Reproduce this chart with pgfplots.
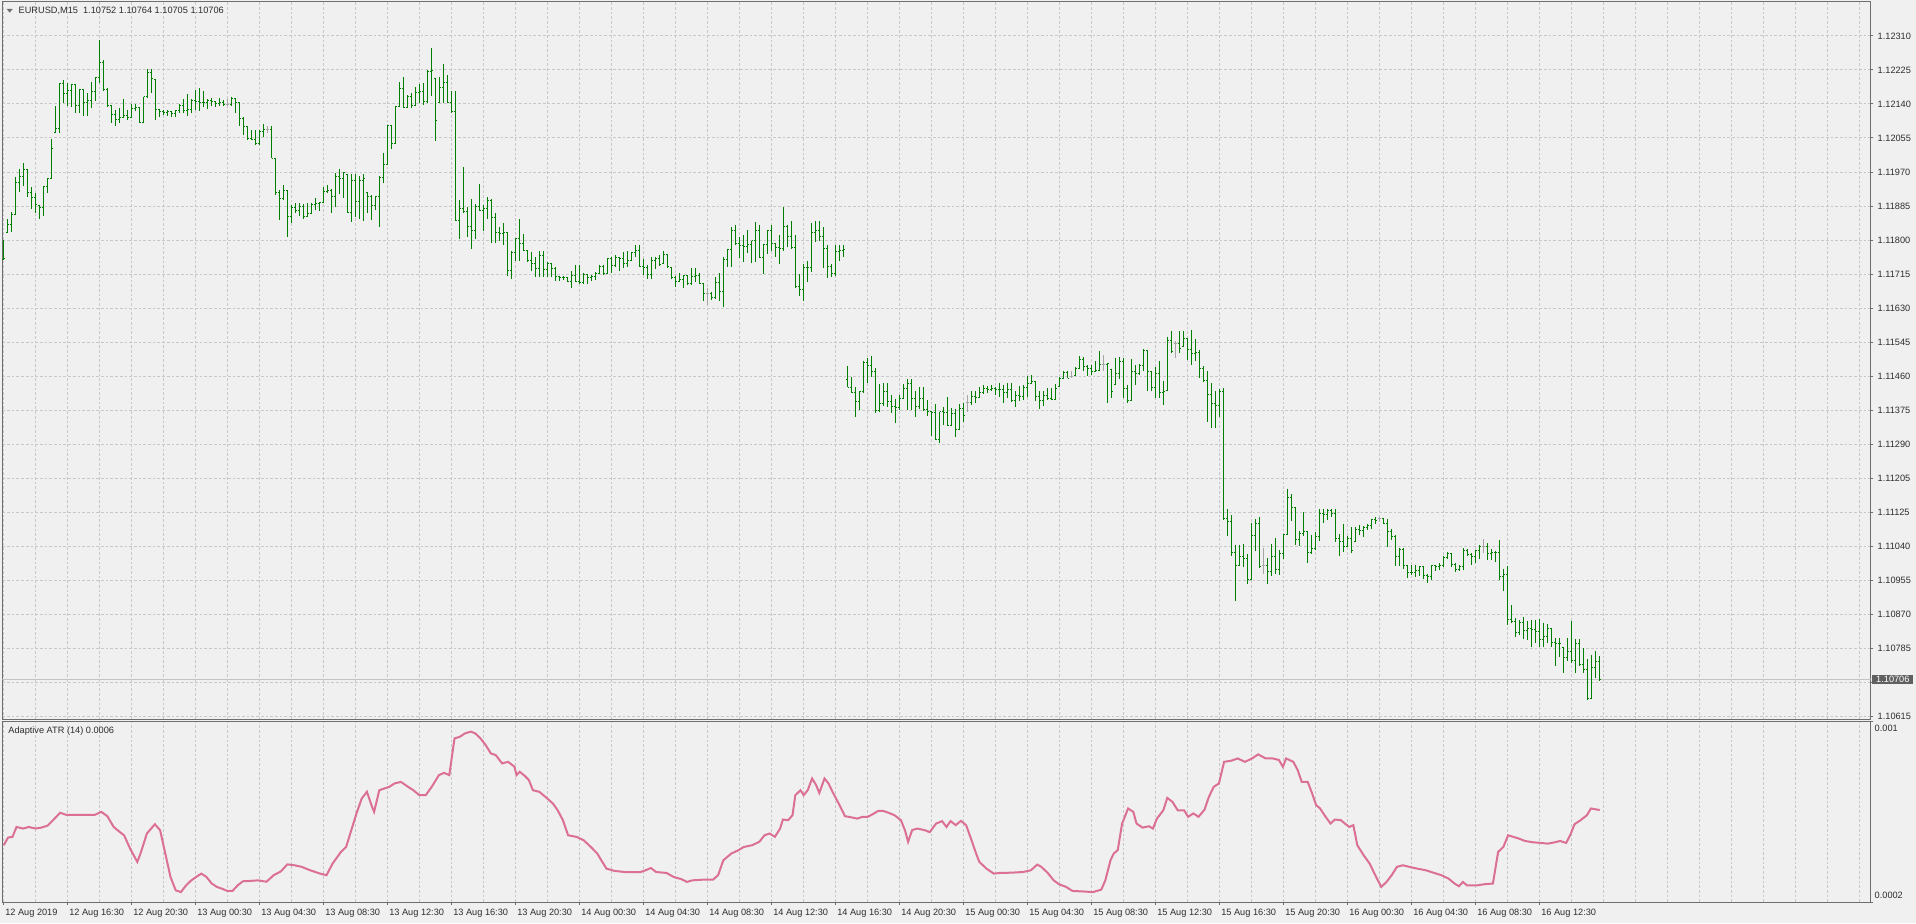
\documentclass[border=0pt]{standalone}
\usepackage{pgfplots}
\pgfplotsset{compat=1.18}
\usepackage{pgfplotstable}
\usepackage{fontspec}
\setmainfont{Liberation Sans}
\definecolor{bgcol}{RGB}{240,240,240}
\definecolor{gridcol}{RGB}{200,200,200}
\definecolor{framecol}{RGB}{110,110,110}
\definecolor{txtcol}{RGB}{45,45,45}
\definecolor{bargreen}{RGB}{0,128,0}
\definecolor{dojigray}{RGB}{165,165,165}
\definecolor{atrcol}{RGB}{219,112,147}
\definecolor{pricebox}{RGB}{96,96,96}
\definecolor{pline}{RGB}{195,195,195}
\newcommand\mtfont{\fontsize{4.6}{5.2}\selectfont}
\pgfdeclareplotmark{otick}{\pgfpathmoveto{\pgfqpoint{-\pgfplotmarksize}{0pt}}\pgfpathlineto{\pgfqpoint{0pt}{0pt}}\pgfusepathqstroke}
\pgfdeclareplotmark{ctick}{\pgfpathmoveto{\pgfqpoint{0pt}{0pt}}\pgfpathlineto{\pgfqpoint{\pgfplotmarksize}{0pt}}\pgfusepathqstroke}
\pgfdeclareplotmark{dtick}{\pgfpathmoveto{\pgfqpoint{-\pgfplotmarksize}{0pt}}\pgfpathlineto{\pgfqpoint{\pgfplotmarksize}{0pt}}\pgfusepathqstroke}

% prices in pips above 1.10000 (e.g. 231.0 = 1.12310)
\pgfplotstableread{
i o h l c
0 175.4 180.1 175.1 175.6
1 182.0 185.5 181.9 184.0
2 184.0 187.2 182.2 186.5
3 186.5 195.9 186.5 194.4
4 194.4 197.8 192.2 196.0
5 196.0 199.4 193.6 197.8
6 197.6 197.6 190.9 191.9
7 191.9 193.4 188.0 190.8
8 190.8 191.9 186.9 188.9
9 188.85 188.85 185.4 188.3
10 188.3 193.6 186.1 193.4
11 193.4 195.7 191.9 195.4
12 195.4 205.3 195.4 203.0
13 206.9 213.6 206.9 208.0
14 208.0 219.3 206.9 219.1
15 219.1 220.1 214.4 216.6
16 216.6 219.3 213.6 217.4
17 217.4 219.0 213.4 218.85
18 218.85 218.85 211.9 213.6
19 213.6 217.8 211.9 217.6
20 217.6 217.9 211.1 214.4
21 214.4 216.9 211.1 214.9
22 214.9 219.6 213.0 217.2
23 217.2 220.9 214.85 220.7
24 220.7 230.1 219.3 224.5
25 224.5 225.1 217.2 217.6
26 217.6 218.0 213.4 213.6
27 213.6 213.6 209.4 211.5
28 211.5 212.6 208.6 210.3
29 210.3 213.0 209.3 210.8
30 210.8 215.35 210.5 211.1
31 211.1 212.6 210.1 210.8
32 210.8 214.1 210.8 212.85
33 212.85 214.1 212.2 213.3
34 213.2 213.2 209.4 209.4
35 209.4 215.9 209.3 215.85
36 215.85 222.8 215.5 221.9
37 221.9 222.8 216.9 220.3
38 220.1 220.1 210.1 212.6
39 212.6 212.8 210.9 212.2
40 212.2 212.6 211.35 211.9
41 211.9 212.6 211.1 212.2
42 212.2 212.4 210.8 211.6
43 211.6 212.6 210.8 212.35
44 212.35 214.1 211.9 213.6
45 213.6 215.3 211.8 212.4
46 212.4 216.5 211.1 212.6
47 212.6 215.3 211.9 214.9
48 214.9 217.6 212.6 214.7
49 214.7 218.1 212.4 214.5
50 214.5 217.35 213.4 214.3
51 214.3 215.35 212.8 214.9
52 214.9 215.5 213.6 214.7
53 214.7 214.9 213.4 214.1
54 214.1 215.5 213.6 214.4
55 214.4 215.1 213.6 213.85
57 213.85 215.9 213.6 215.5
58 215.5 215.5 211.9 214.4
59 214.4 214.4 208.6 210.5
60 210.5 210.9 206.35 208.4
61 208.4 208.6 205.1 205.5
62 205.5 207.6 205.1 205.3
63 205.3 207.6 203.85 204.1
64 204.1 207.6 203.85 207.2
65 207.2 209.0 205.9 207.6
67 207.6 208.6 200.5 200.5
68 200.5 200.5 191.35 191.9
69 191.9 192.6 185.1 190.5
70 190.5 193.85 190.1 192.4
71 192.4 192.6 181.0 186.1
72 186.1 188.85 184.4 188.3
73 188.3 189.3 186.9 187.6
74 187.6 189.4 186.1 188.6
75 188.6 189.1 185.3 186.1
76 186.1 189.3 185.8 186.8
77 186.8 189.3 186.6 189.0
78 189.0 190.5 187.6 189.3
79 189.3 189.7 187.4 189.4
80 189.4 193.4 189.3 192.2
81 192.2 193.85 191.8 192.4
82 192.4 192.8 186.9 190.9
83 190.9 196.8 188.4 195.9
84 195.9 197.8 191.6 195.6
85 195.6 197.2 190.5 196.9
86 196.6 196.6 186.9 186.9
87 186.9 196.6 184.7 195.1
88 195.1 196.6 185.9 189.7
89 189.7 196.1 185.5 195.1
90 195.1 196.6 184.9 195.5
91 191.9 191.9 186.9 191.1
92 191.1 191.35 185.1 188.85
93 188.85 191.1 187.6 190.9
94 190.9 196.1 183.3 195.8
95 195.8 201.9 194.4 198.85
96 198.85 208.85 198.85 208.6
97 208.6 208.85 202.8 204.3
98 204.3 213.6 204.3 213.4
99 213.4 219.5 213.3 217.8
100 217.8 220.8 213.0 213.2
101 213.3 216.35 213.3 215.9
102 215.9 216.8 213.0 213.6
103 213.6 218.3 213.6 216.9
104 216.9 219.1 214.4 217.2
105 217.2 219.4 213.85 214.7
106 214.7 222.6 214.4 222.2
107 222.2 228.0 216.1 222.4
108 220.3 220.3 204.85 209.9
109 214.4 220.9 214.4 218.2
110 218.2 224.1 214.4 219.3
111 219.3 221.35 214.3 214.3
112 214.3 217.2 211.8 212.2
113 212.2 217.2 184.9 184.9
114 184.9 190.1 180.5 188.0
115 188.0 198.4 186.9 187.2
116 187.2 188.4 180.8 183.6
117 183.6 190.3 177.8 182.6
118 182.6 189.1 180.5 188.4
119 188.4 194.1 187.4 187.6
120 187.6 188.85 182.4 188.0
121 188.0 190.9 185.5 190.1
122 190.1 190.45 179.4 185.7
123 185.7 186.9 179.4 181.9
124 181.9 183.5 180.0 181.7
125 181.7 184.4 179.0 181.9
126 181.9 182.1 171.3 172.5
127 172.5 177.3 170.5 177.1
128 177.1 180.7 175.0 180.5
129 180.5 185.5 174.9 179.4
130 179.4 181.7 177.5 177.5
131 177.5 177.5 174.6 175.0
132 175.0 177.1 172.5 174.4
133 174.4 175.9 171.0 172.95
134 172.95 177.4 171.0 176.3
135 176.3 177.5 171.0 172.9
136 172.9 174.6 170.9 174.2
137 174.2 174.2 171.0 172.95
138 172.95 173.4 169.9 171.0
139 171.0 171.3 169.9 170.7
140 170.7 171.3 170.2 170.9
141 170.9 171.0 169.6 169.9
142 169.9 172.4 168.2 171.3
143 171.3 173.8 169.6 169.9
144 169.9 173.8 169.2 169.6
145 169.6 171.9 169.2 171.5
146 171.5 171.7 169.2 170.9
147 170.9 171.5 169.9 171.0
148 171.0 172.1 170.2 171.7
149 171.7 173.8 171.7 173.6
150 173.6 174.0 171.5 171.7
151 171.7 175.7 171.7 175.45
152 175.45 176.0 171.9 173.8
153 173.8 176.3 173.5 175.7
154 175.7 176.0 172.4 175.45
155 175.45 177.1 173.2 174.4
156 174.4 177.4 173.5 175.0
157 175.0 177.1 174.9 176.95
158 176.95 178.8 176.0 177.5
159 177.5 178.8 173.5 173.5
160 173.5 175.45 171.5 173.2
161 173.2 173.8 170.5 171.5
162 171.5 175.9 170.5 175.0
163 175.0 175.9 172.95 175.45
164 175.45 176.5 173.8 174.0
165 174.4 177.5 174.4 176.5
166 176.5 176.5 173.2 173.5
167 173.4 173.4 170.5 170.7
168 170.7 171.3 168.5 169.9
169 169.9 171.9 169.6 170.2
170 170.2 171.5 168.2 171.3
171 171.3 171.3 169.0 169.2
172 169.2 173.2 169.0 171.0
173 171.0 173.2 169.6 171.2
174 171.2 171.9 169.2 169.4
175 169.2 169.2 165.0 166.9
177 166.9 167.1 165.2 165.7
178 165.7 170.9 165.45 169.6
179 169.6 171.9 165.0 167.4
180 167.4 175.9 163.5 175.2
181 175.2 177.95 173.5 177.7
182 177.7 183.4 173.5 182.5
183 182.5 184.0 178.8 179.4
184 179.4 180.9 175.7 178.8
185 178.8 181.5 174.6 178.5
186 178.5 182.7 176.9 179.0
187 179.0 180.0 174.4 180.0
188 180.0 184.6 174.6 182.5
189 182.5 184.0 175.7 175.7
190 175.7 179.2 171.7 179.0
191 179.0 182.7 176.7 182.5
192 182.5 183.8 177.5 179.2
193 179.2 179.4 175.9 178.2
194 178.2 181.3 174.2 178.0
195 178.0 188.5 177.5 183.5
196 183.5 183.8 178.4 181.0
197 181.0 185.0 178.0 178.2
198 178.2 181.5 168.4 168.5
199 168.5 171.7 166.3 167.7
200 167.7 174.2 164.9 173.4
201 173.4 175.0 169.6 173.2
202 173.2 184.4 172.1 182.1
203 182.1 184.9 179.6 182.5
204 182.5 184.9 179.9 181.0
205 181.0 183.5 173.2 177.95
206 177.95 179.0 170.7 173.5
207 173.5 174.2 171.0 171.9
208 171.9 179.0 171.3 177.4
209 177.4 179.0 175.0 177.5
210 177.5 178.8 176.0 177.8
211 145.3 148.8 143.5 143.5
212 143.5 146.0 142.0 142.2
213 142.2 143.5 136.1 139.8
214 139.8 142.6 137.8 142.4
215 142.4 149.9 142.1 149.5
216 149.5 150.7 144.5 148.9
217 148.9 151.3 146.1 147.4
218 147.4 148.2 137.1 137.6
219 137.6 144.3 137.4 139.3
220 139.3 144.5 138.8 142.4
221 142.4 144.6 138.6 139.9
222 139.9 141.6 137.1 138.6
223 138.6 140.5 134.6 138.5
224 138.5 141.6 137.8 140.7
225 140.7 144.3 140.5 143.2
226 143.2 145.5 137.8 144.5
227 144.5 145.5 137.8 140.7
228 140.7 142.4 136.1 138.6
229 138.6 143.5 138.0 140.7
230 140.7 143.5 137.6 138.0
231 138.0 140.3 136.3 137.4
232 137.4 137.4 131.3 137.1
233 137.1 139.3 130.3 130.5
234 130.5 137.4 129.6 137.4
235 137.4 138.5 134.0 137.2
236 137.2 141.0 133.8 134.0
237 134.0 138.2 134.0 136.8
238 136.8 138.0 131.1 133.0
239 133.0 139.3 133.0 138.2
240 138.2 139.5 134.9 136.3
242 139.6 142.4 139.1 141.1
243 141.1 142.4 139.6 141.0
244 141.0 143.6 141.0 142.1
245 142.1 144.1 141.8 143.2
246 143.2 143.8 142.1 143.0
247 143.0 144.1 142.4 143.2
248 143.2 143.5 141.6 142.8
249 142.8 144.6 141.1 143.0
250 143.0 144.1 139.6 142.1
251 142.1 144.5 140.7 143.0
252 143.0 144.5 139.9 140.1
253 140.1 142.6 138.6 141.3
254 141.3 143.8 139.9 141.1
255 141.1 144.1 140.3 143.5
256 143.5 146.3 141.1 144.5
257 144.5 146.6 144.3 144.8
258 144.8 144.9 139.9 141.1
259 141.1 142.4 138.0 140.1
260 140.1 142.6 138.8 141.3
261 141.3 143.2 140.3 140.7
262 140.7 143.2 140.3 140.5
263 140.5 144.3 140.5 143.2
264 143.6 146.0 143.6 145.7
265 145.7 147.4 145.5 147.1
266 147.1 147.4 145.7 145.7
268 146.3 148.5 146.3 148.2
269 148.2 151.3 148.0 150.3
270 150.3 151.0 147.4 148.5
271 148.5 149.1 146.3 148.2
272 148.2 149.1 146.6 147.4
273 147.4 149.9 147.4 147.6
274 147.6 152.6 147.4 149.1
276 149.1 149.6 139.6 149.3
277 148.0 148.0 140.7 142.4
278 144.1 150.7 144.1 147.0
279 147.0 151.0 145.5 149.9
280 149.9 150.7 140.7 143.2
281 143.2 144.1 139.5 140.1
282 140.1 150.5 140.1 147.4
283 147.4 149.1 144.1 147.0
284 147.0 149.3 146.6 148.8
285 148.8 153.0 147.4 152.6
286 152.6 152.8 142.4 147.4
287 147.4 147.4 142.4 143.5
288 143.5 148.5 140.7 146.8
289 146.8 149.9 140.7 142.1
290 142.1 145.1 139.0 142.4
291 142.6 156.0 142.6 155.0
292 155.0 157.4 152.0 152.4
294 154.3 157.4 152.1 153.0
295 153.5 157.4 153.5 155.5
296 155.5 155.5 150.3 152.8
297 152.8 157.8 149.05 151.9
298 151.9 155.5 149.9 152.0
299 152.0 152.8 145.7 148.2
300 148.2 148.8 144.9 145.1
301 145.1 147.55 134.9 141.55
302 141.55 144.5 133.2 139.3
303 139.3 142.55 133.2 138.8
304 138.8 143.0 136.1 142.4
305 142.4 143.2 110.5 110.7
306 110.7 113.2 106.3 110.05
307 110.05 111.5 101.3 102.2
308 102.2 104.05 90.3 98.9
309 98.9 104.05 98.8 101.3
310 101.3 104.5 98.6 100.7
311 100.7 101.8 94.5 95.5
312 95.5 109.5 95.3 106.55
313 106.55 110.5 102.6 109.6
314 109.6 111.1 98.5 98.8
316 99.05 101.0 94.5 97.6
317 97.6 104.3 96.3 101.3
318 101.3 106.0 96.8 98.0
319 98.0 102.8 96.55 102.1
320 102.1 107.0 100.7 106.8
321 106.8 118.0 106.8 115.9
322 115.9 116.8 110.1 113.5
323 113.5 113.5 104.05 105.5
324 105.5 107.6 103.8 107.1
325 107.1 112.3 106.3 107.4
326 107.4 107.6 99.6 102.2
327 102.2 106.55 101.8 103.2
328 103.2 107.4 102.8 106.3
329 106.3 113.0 105.2 112.0
330 112.0 113.0 109.6 111.8
331 111.8 113.2 110.3 112.8
332 112.8 113.0 111.1 112.0
333 112.0 113.0 104.9 105.7
334 105.7 107.0 101.3 104.9
335 104.9 109.3 102.4 103.8
336 103.8 106.3 103.8 105.7
337 105.7 108.6 102.1 102.8
338 104.9 108.5 104.9 108.0
339 108.0 109.05 106.55 107.8
340 107.8 108.8 106.1 108.6
341 108.6 109.3 107.8 109.05
342 109.05 110.7 108.2 110.5
343 110.5 111.1 109.3 110.3
345 110.7 110.7 109.3 109.6
346 109.6 110.5 103.6 107.6
347 107.6 108.2 105.5 106.3
348 106.3 106.75 98.8 101.2
349 101.2 103.4 98.8 103.0
350 103.0 103.4 98.2 99.0
351 99.0 99.25 95.9 97.2
352 97.2 99.25 96.75 97.4
353 97.4 99.25 96.2 97.8
354 97.8 99.0 96.3 98.7
355 98.7 99.0 95.7 96.5
356 96.5 97.0 94.7 96.2
357 96.2 99.25 95.5 99.0
358 99.0 99.25 97.6 98.7
359 98.7 99.7 97.8 98.9
360 98.9 101.5 98.7 100.9
361 100.9 102.3 100.7 102.0
362 102.0 102.0 98.7 99.25
363 99.25 99.7 97.3 98.0
364 98.0 99.25 97.6 98.7
365 98.7 103.4 98.0 102.8
366 102.8 103.2 101.5 101.75
367 101.75 102.2 99.25 101.2
368 101.2 103.0 99.7 102.8
369 102.8 104.25 100.7 103.8
371 103.8 104.7 100.3 102.0
372 102.0 103.2 100.5 102.2
373 102.2 102.6 99.8 102.3
374 102.3 105.3 95.3 96.2
375 96.2 98.2 92.6 96.75
376 96.75 99.0 84.25 85.5
377 85.5 89.25 84.7 85.1
378 85.1 85.9 81.3 82.3
379 82.3 85.5 81.75 84.7
380 84.7 86.2 80.7 82.8
381 82.8 85.1 80.5 83.2
382 83.2 85.5 78.8 83.0
383 83.0 85.5 79.8 82.6
384 82.6 85.7 78.8 80.7
385 80.7 84.8 78.8 81.3
386 81.3 84.5 79.8 83.2
387 83.2 83.4 78.8 79.8
388 79.8 80.9 74.0 79.6
389 79.6 80.9 76.2 79.5
390 78.7 78.7 72.3 76.2
391 76.2 80.9 75.1 77.6
392 77.6 85.1 74.8 75.3
393 75.3 80.7 72.3 79.7
394 79.7 80.7 74.0 74.25
395 74.25 78.4 72.2 73.0
396 73.0 75.7 65.5 65.9
397 65.9 76.75 65.7 73.7
398 73.7 77.6 70.9 75.2
399 75.2 76.4 70.5 70.6
}\ohlc

% bars with open = close (drawn grey)
\pgfplotstableread{
i p h l
56 213.85 215.4 213.6
66 207.6 208.6 206.9
176 166.9 168.2 164.0
241 139.6 141.6 137.4
267 146.1 147.4 145.9
275 149.1 151.6 147.6
293 154.3 155.1 150.7
315 99.05 103.5 96.8
344 110.7 111.1 109.9
370 103.8 105.7 102.2
}\doji

\pgfplotstableread{
i v
0 0.000452
1.1 0.000486
2.2 0.000489
3.2 0.000533
4.8 0.000526
6.3 0.000533
7.9 0.000526
9.4 0.000530
11.0 0.000539
12.5 0.000566
14.1 0.000596
15.6 0.000587
19.7 0.000587
22.8 0.000587
24.4 0.000600
25.9 0.000581
27.5 0.000533
29.0 0.000511
30.1 0.000496
31.6 0.000437
33.4 0.000378
34.2 0.000415
35.8 0.000504
37.8 0.000545
39.1 0.000519
40.4 0.000415
41.7 0.000311
43.0 0.000252
44.3 0.000244
45.6 0.000274
46.9 0.000296
48.1 0.000311
49.4 0.000326
50.7 0.000311
52.0 0.000282
53.3 0.000267
54.6 0.000259
55.9 0.000249
57.2 0.000249
58.5 0.000274
59.8 0.000292
61.1 0.000293
63.6 0.000296
65.7 0.000290
67.5 0.000319
69.3 0.000336
70.9 0.000367
72.7 0.000363
74.5 0.000356
76.6 0.000341
79.1 0.000326
80.7 0.000319
82.2 0.000370
84.3 0.000422
85.6 0.000444
86.9 0.000519
88.2 0.000593
89.5 0.000659
90.8 0.000689
92.1 0.000622
92.6 0.000600
93.9 0.000696
95.2 0.000704
96.4 0.000711
97.7 0.000726
99.3 0.000733
101.1 0.000711
102.4 0.000696
103.9 0.000674
105.5 0.000674
107.0 0.000711
108.8 0.000763
110.1 0.000773
111.4 0.000763
112.7 0.000926
114.0 0.000933
115.3 0.000948
116.8 0.000956
117.9 0.000948
119.2 0.000926
120.5 0.000896
121.8 0.000859
123.0 0.000852
124.6 0.000815
126.1 0.000822
127.7 0.000800
128.2 0.000763
129.0 0.000778
130.3 0.000759
131.3 0.000741
132.3 0.000696
133.9 0.000689
135.4 0.000667
137.3 0.000637
138.5 0.000607
139.8 0.000563
141.1 0.000496
143.2 0.000489
145.0 0.000474
146.8 0.000444
148.4 0.000415
149.4 0.000385
150.7 0.000348
152.7 0.000338
155.3 0.000333
157.9 0.000333
159.2 0.000333
160.5 0.000341
161.8 0.000351
163.1 0.000333
165.7 0.000329
167.5 0.000311
169.5 0.000301
170.8 0.000289
172.1 0.000296
174.7 0.000299
177.3 0.000299
178.6 0.000319
179.9 0.000385
181.9 0.000415
183.7 0.000430
185.0 0.000444
187.1 0.000452
188.9 0.000467
190.2 0.000496
191.5 0.000504
192.8 0.000489
194.1 0.000526
194.8 0.000566
196.1 0.000563
197.2 0.000585
197.9 0.000674
199.2 0.000696
200.0 0.000674
201.0 0.000696
202.1 0.000748
203.1 0.000719
203.9 0.000684
205.2 0.000748
206.2 0.000726
207.2 0.000689
208.3 0.000652
209.6 0.000607
210.3 0.000581
212.1 0.000575
213.4 0.000570
214.7 0.000578
216.0 0.000578
217.3 0.000590
218.6 0.000604
219.9 0.000604
221.2 0.000596
222.7 0.000585
224.3 0.000563
225.3 0.000519
226.1 0.000467
227.1 0.000519
228.4 0.000526
230.2 0.000519
231.5 0.000510
233.1 0.000548
234.6 0.000559
235.7 0.000533
236.7 0.000559
238.0 0.000541
239.3 0.000560
240.6 0.000541
241.8 0.000482
243.1 0.000415
243.9 0.000378
245.7 0.000348
247.5 0.000326
249.1 0.000329
251.7 0.000330
254.8 0.000333
256.8 0.000341
258.4 0.000366
259.4 0.000356
261.0 0.000329
262.5 0.000296
263.8 0.000279
265.6 0.000267
267.2 0.000249
269.7 0.000247
272.3 0.000244
274.4 0.000255
275.4 0.000296
276.7 0.000385
277.5 0.000415
278.5 0.000430
279.6 0.000548
281.1 0.000615
282.4 0.000600
283.2 0.000548
284.7 0.000530
286.3 0.000536
287.3 0.000526
288.3 0.000570
289.9 0.000607
290.9 0.000662
292.2 0.000644
293.5 0.000607
295.1 0.000607
296.1 0.000578
297.4 0.000593
298.7 0.000578
300.2 0.000610
301.3 0.000667
302.5 0.000711
303.8 0.000726
305.1 0.000822
306.9 0.000827
308.5 0.000837
310.3 0.000822
312.1 0.000837
313.6 0.000855
315.5 0.000837
317.3 0.000837
318.8 0.000830
319.8 0.000800
320.6 0.000837
322.4 0.000822
323.5 0.000785
324.5 0.000733
326.0 0.000733
327.1 0.000682
328.1 0.000630
329.1 0.000615
330.2 0.000585
331.7 0.000548
332.8 0.000566
334.3 0.000563
335.3 0.000548
336.4 0.000533
337.4 0.000541
338.4 0.000452
340.0 0.000407
341.5 0.000370
343.1 0.000311
344.4 0.000267
345.7 0.000289
347.0 0.000319
348.3 0.000356
349.8 0.000363
351.4 0.000356
353.4 0.000348
355.5 0.000341
357.6 0.000329
359.4 0.000319
361.2 0.000304
362.7 0.000282
363.8 0.000270
364.8 0.000289
365.8 0.000274
368.4 0.000274
370.2 0.000279
372.3 0.000282
373.6 0.000422
374.9 0.000444
376.1 0.000496
377.4 0.000489
378.7 0.000482
380.3 0.000471
382.3 0.000465
384.4 0.000462
386.0 0.000459
387.8 0.000465
389.1 0.000471
390.6 0.000462
391.6 0.000496
392.7 0.000545
394.2 0.000563
395.8 0.000585
396.8 0.000615
398.4 0.000610
399.0 0.000608
}\atr

\pgfplotsset{
  mtbase/.style={
    scale only axis, width=934.2pt, xmin=-0.35, xmax=466.75,
    axis line style={draw=framecol, line width=0.5pt},
    grid style={draw=gridcol, line width=0.5pt, dash pattern=on 1.35pt off 1pt},
    minor grid style={draw=gridcol, line width=0.5pt, dash pattern=on 1.35pt off 1pt},
    tick style={draw=framecol, line width=0.5pt},
    tick align=outside,
    major tick length=1.3pt, minor tick length=0pt,
    tick label style={font=\mtfont, text=txtcol},
    scaled ticks=false,
    clip mode=individual,
  },
}

\begin{document}
\begin{tikzpicture}
\path[use as bounding box, fill=bgcol] (0,0) rectangle (958pt,461.5pt);

% ---------- price panel ----------
\begin{axis}[mtbase,
  at={(1.15pt,101.85pt)}, anchor=south west, height=359.15pt,
  ymin=60.69, ymax=239.72,
  xtick={0,16,...,464}, minor xtick={8,24,...,456},
  xticklabel=\mbox{}, xtick style={draw=none},
  xmajorgrids, xminorgrids, ymajorgrids,
  ytick={231,222.525,214.05,205.575,197.1,188.625,180.15,171.675,163.2,154.725,146.25,137.775,129.3,120.825,112.35,103.875,95.4,86.925,78.45,69.975,61.5},
  yticklabels={1.12310,1.12225,1.12140,1.12055,1.11970,1.11885,1.11800,1.11715,1.11630,1.11545,1.11460,1.11375,1.11290,1.11205,1.11125,1.11040,1.10955,1.10870,1.10785,\mbox{},1.10615},
  ytick pos=right, yticklabel pos=right,
  yticklabel style={anchor=west, inner sep=0pt, xshift=2.0pt},
]
\addplot[pline, line width=0.6pt] coordinates {(-0.35,70.6) (466.75,70.6)};
\addplot[bargreen, only marks, mark=ctick, mark size=0.85pt,
  mark options={line width=0.5pt, draw=bargreen},
  error bars/.cd, y dir=both, y explicit, error mark=none,
  error bar style={line width=0.5pt, draw=bargreen}]
  table[x=i, y=c, y error plus expr=\thisrow{h}-\thisrow{c}, y error minus expr=\thisrow{c}-\thisrow{l}] {\ohlc};
\addplot[bargreen, only marks, mark=otick, mark size=0.85pt,
  mark options={line width=0.5pt, draw=bargreen}]
  table[x=i, y=o] {\ohlc};
\addplot[dojigray, only marks, mark=dtick, mark size=0.85pt,
  mark options={line width=0.5pt, draw=dojigray},
  error bars/.cd, y dir=both, y explicit, error mark=none,
  error bar style={line width=0.5pt, draw=dojigray}]
  table[x=i, y=p, y error plus expr=\thisrow{h}-\thisrow{p}, y error minus expr=\thisrow{p}-\thisrow{l}] {\doji};
\end{axis}

% ---------- Adaptive ATR panel ----------
\begin{axis}[mtbase,
  at={(1.15pt,10.5pt)}, anchor=south west, height=90.15pt,
  ymin=0.0002, ymax=0.001, ytick={0.0002,0.001}, yticklabel=\mbox{}, ytick pos=right,
  xtick={0,16,...,384},
  minor xtick={8,24,...,456,400,416,...,464},
  xticklabels={12 Aug 2019,12 Aug 16:30,12 Aug 20:30,13 Aug 00:30,13 Aug 04:30,13 Aug 08:30,13 Aug 12:30,13 Aug 16:30,13 Aug 20:30,14 Aug 00:30,14 Aug 04:30,14 Aug 08:30,14 Aug 12:30,14 Aug 16:30,14 Aug 20:30,15 Aug 00:30,15 Aug 04:30,15 Aug 08:30,15 Aug 12:30,15 Aug 16:30,15 Aug 20:30,16 Aug 00:30,16 Aug 04:30,16 Aug 08:30,16 Aug 12:30},
  xtick pos=bottom,
  xticklabel style={anchor=base west, inner sep=0pt, xshift=0.6pt, yshift=-5.2pt},
  xmajorgrids, xminorgrids,
]
\addplot[atrcol, line width=1pt] table[x=i, y=v] {\atr};
\end{axis}

% ---------- texts ----------
\fill[framecol] (3.35pt,457pt) -- (6.35pt,457pt) -- (4.85pt,455.15pt) -- cycle;
\node[anchor=west, inner sep=0pt, text=txtcol, font=\mtfont] at (9.15pt,456pt) {EURUSD,M15\ \ 1.10752 1.10764 1.10705 1.10706};
\node[anchor=west, inner sep=0pt, text=txtcol, font=\mtfont] at (4pt,96pt) {Adaptive ATR (14) 0.0006};
\node[anchor=west, inner sep=0pt, text=txtcol, font=\mtfont] at (937.15pt,97.35pt) {0.001};
\node[anchor=west, inner sep=0pt, text=txtcol, font=\mtfont] at (937.15pt,13.65pt) {0.0002};
\node[anchor=west, fill=pricebox, text=white, font=\mtfont, inner xsep=1.9pt, inner ysep=0pt, minimum height=4.7pt] at (936pt,121.75pt) {1.10706};
\end{tikzpicture}
\end{document}
